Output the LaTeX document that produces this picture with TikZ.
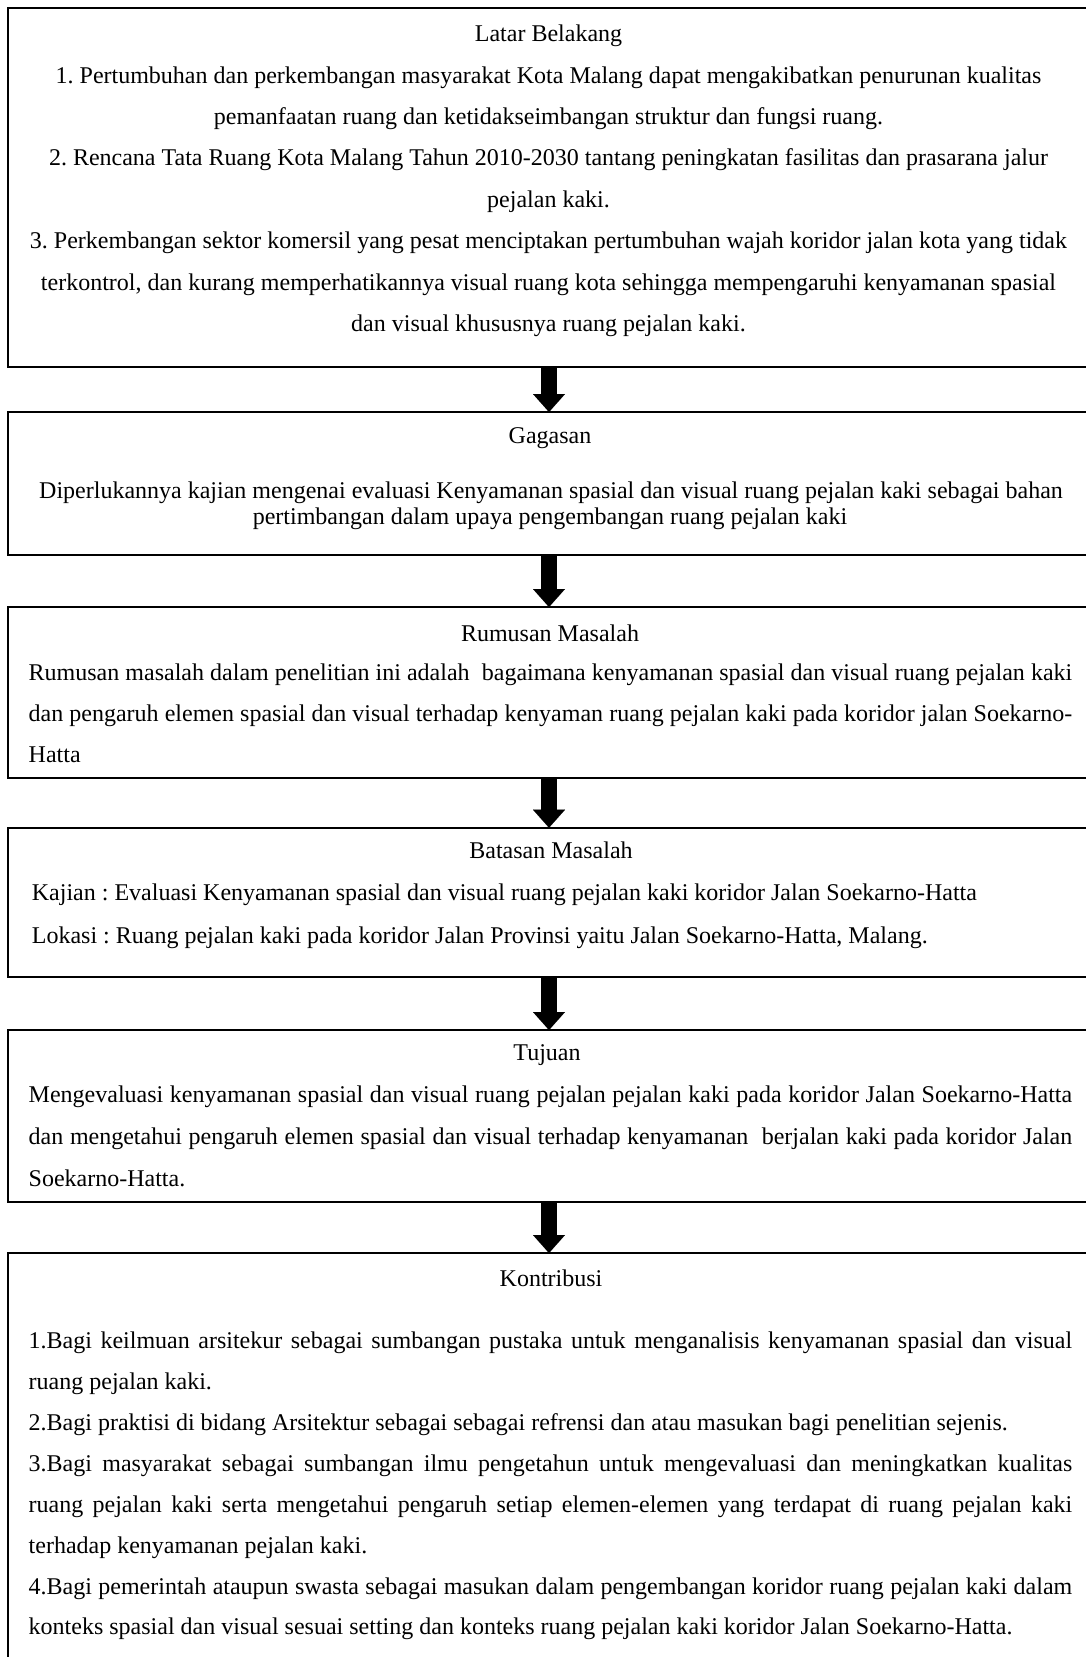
\documentclass[tikz,border=0pt]{standalone}
\usepackage{fontspec}
\setmainfont{Liberation Serif}
\usetikzlibrary{arrows.meta}
\frenchspacing
\newcommand\bodyfont{\fontsize{24}{28}\selectfont\frenchspacing}
\newcommand\jl[1]{\makebox[1043.5pt][s]{#1}}
\begin{document}
\begin{tikzpicture}[x=1pt,y=-1pt,
  box/.style={draw, line width=1.6pt, minimum width=1082pt, inner sep=0pt, outer sep=0pt},
  ctr/.style={anchor=base, inner sep=0pt, font=\bodyfont},
  lft/.style={anchor=base west, inner sep=0pt, font=\bodyfont},
  flow/.style={line width=16pt, -{Triangle[width=32pt,length=18pt,line width=0.01pt]}},
]
\fill[white] (0,0) rectangle (1086,1657);
\useasboundingbox (0,0) rectangle (1086,1657);
\clip (0,0) rectangle (1086,1657);

% boxes
\node[box, minimum height=359pt] (b1) at (549,187.5) {};
\node[box, minimum height=143pt] (b2) at (549,483.5) {};
\node[box, minimum height=170.7pt] (b3) at (549,692.35) {};
\node[box, minimum height=149pt] (b4) at (549,902.2) {};
\node[box, minimum height=172pt] (b5) at (549,1116) {};
\node[box, minimum height=447pt] (b6) at (549,1476.5) {};

% arrows
\draw[flow] (b1.south) -- (b2.north);
\draw[flow] (b2.south) -- (b3.north);
\draw[flow] (b3.south) -- (b4.north);
\draw[flow] (b4.south) -- (b5.north);
\draw[flow] (b5.south) -- (b6.north);

% box 1
\node[ctr] (t1) at (548.5,41) {Latar Belakang};
\node[ctr] (t1a) at (548.5,83) {1. Pertumbuhan dan perkembangan masyarakat Kota Malang dapat mengakibatkan penurunan kualitas};
\node[ctr] (t1b) at (548.5,124.4) {pemanfaatan ruang dan ketidakseimbangan struktur dan fungsi ruang.};
\node[ctr] (t1c) at (548.5,165.8) {2. Rencana Tata Ruang Kota Malang Tahun 2010-2030 tantang peningkatan fasilitas dan prasarana jalur};
\node[ctr] (t1d) at (548.5,207.2) {pejalan kaki.};
\node[ctr] (t1e) at (548.5,248.6) {3. Perkembangan sektor komersil yang pesat menciptakan pertumbuhan wajah koridor jalan kota yang tidak};
\node[ctr] (t1f) at (548.5,290) {terkontrol, dan kurang memperhatikannya visual ruang kota sehingga mempengaruhi kenyamanan spasial};
\node[ctr] (t1g) at (548.5,331.4) {dan visual khususnya ruang pejalan kaki.};

% box 2
\node[ctr] (t2) at (550,443) {Gagasan};
\node[ctr] (t2a) at (551,498) {Diperlukannya kajian mengenai evaluasi Kenyamanan spasial dan visual ruang pejalan kaki sebagai bahan};
\node[ctr] (t2b) at (550,524.6) {pertimbangan dalam upaya pengembangan ruang pejalan kaki};

% box 3
\node[ctr] (t3) at (550,641) {Rumusan Masalah};
\node[lft] (t3a) at (28.5,680) {\jl{Rumusan masalah dalam penelitian ini adalah \ bagaimana kenyamanan spasial dan visual ruang pejalan kaki}};
\node[lft] (t3b) at (28.5,721.4) {\jl{dan pengaruh elemen spasial dan visual terhadap kenyaman ruang pejalan kaki pada koridor jalan Soekarno-}};
\node[lft] (t3c) at (28.5,762.8) {Hatta};

% box 4
\node[ctr] (t4) at (551,858.5) {Batasan Masalah};
\node[lft] (t4a) at (31.7,900.7) {Kajian : Evaluasi Kenyamanan spasial dan visual ruang pejalan kaki koridor Jalan Soekarno-Hatta};
\node[lft] (t4b) at (31.7,943) {Lokasi : Ruang pejalan kaki pada koridor Jalan Provinsi yaitu Jalan Soekarno-Hatta, Malang.};

% box 5
\node[ctr] (t5) at (547,1060) {Tujuan};
\node[lft] (t5a) at (28.5,1102.5) {\jl{Mengevaluasi kenyamanan spasial dan visual ruang pejalan pejalan kaki pada koridor Jalan Soekarno-Hatta}};
\node[lft] (t5b) at (28.5,1144.7) {\jl{dan mengetahui pengaruh elemen spasial dan visual terhadap kenyamanan \ berjalan kaki pada koridor Jalan}};
\node[lft] (t5c) at (28.5,1186) {Soekarno-Hatta.};

% box 6
\node[ctr] (t6) at (551,1286) {Kontribusi};
\node[lft] (t6a) at (28.5,1348.6) {\jl{1.Bagi keilmuan arsitekur sebagai sumbangan pustaka untuk menganalisis kenyamanan spasial dan visual}};
\node[lft] (t6b) at (28.5,1389.5) {ruang pejalan kaki.};
\node[lft] (t6c) at (28.5,1430.4) {2.Bagi praktisi di bidang Arsitektur sebagai sebagai refrensi dan atau masukan bagi penelitian sejenis.};
\node[lft] (t6d) at (28.5,1471.3) {\jl{3.Bagi masyarakat sebagai sumbangan ilmu pengetahun untuk mengevaluasi dan meningkatkan kualitas}};
\node[lft] (t6e) at (28.5,1512.2) {\jl{ruang pejalan kaki serta mengetahui pengaruh setiap elemen-elemen yang terdapat di ruang pejalan kaki}};
\node[lft] (t6f) at (28.5,1553.1) {terhadap kenyamanan pejalan kaki.};
\node[lft] (t6g) at (28.5,1594) {\jl{4.Bagi pemerintah ataupun swasta sebagai masukan dalam pengembangan koridor ruang pejalan kaki dalam}};
\node[lft] (t6h) at (28.5,1634.9) {konteks spasial dan visual sesuai setting dan konteks ruang pejalan kaki koridor Jalan Soekarno-Hatta.};
\end{tikzpicture}
\end{document}
